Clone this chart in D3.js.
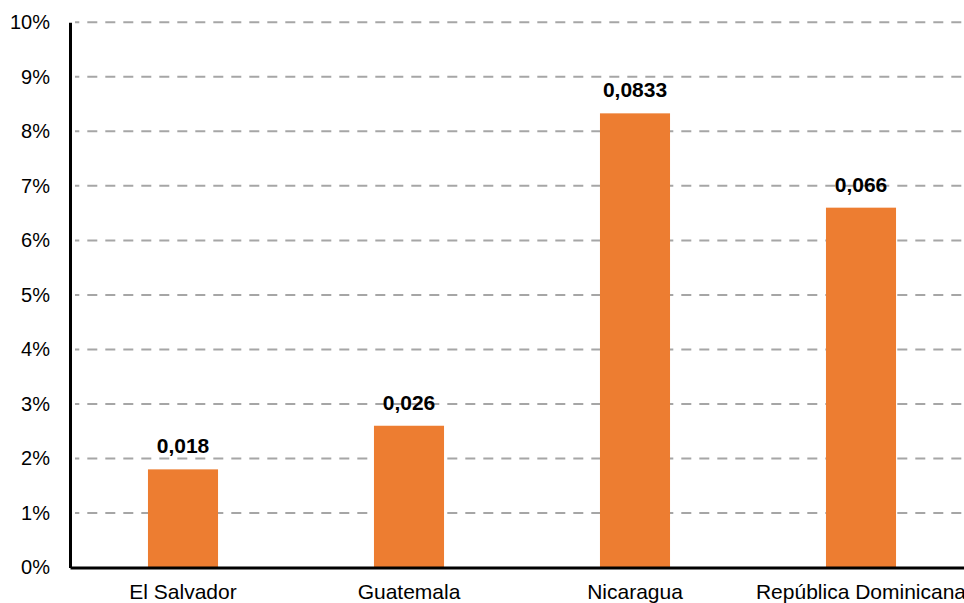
<!DOCTYPE html>
<html><head><meta charset="utf-8">
<script src="https://cdn.jsdelivr.net/npm/d3@7"></script>
<style>body{margin:0;background:#fff}svg{display:block;font-family:"Liberation Sans",Arial,sans-serif}</style>
</head><body><svg id="c" width="964" height="603"></svg>
<script>
const categories = ["El Salvador","Guatemala","Nicaragua","República Dominicana"];
const values = [0.018, 0.026, 0.0833, 0.066];
const valueLabels = ["0,018","0,026","0,0833","0,066"];
const yTicks = [0,0.01,0.02,0.03,0.04,0.05,0.06,0.07,0.08,0.09,0.10];

const svg = d3.select("#c");
const x = d3.scaleBand().domain(categories).range([70, 974]).paddingInner(0.69).paddingOuter(0.345);
const y = d3.scaleLinear().domain([0, 0.10]).range([567.5, 22.3]);

// gridlines
svg.append("g").selectAll("line").data(yTicks.filter(d=>d>0)).join("line")
  .attr("x1", 75).attr("x2", 964)
  .attr("y1", d=>y(d)).attr("y2", d=>y(d))
  .attr("stroke", "#a6a6a6").attr("stroke-width", 2)
  .attr("stroke-dasharray", "10,8").attr("stroke-dashoffset", 5.7);

// bars
svg.append("g").selectAll("rect").data(values).join("rect")
  .attr("x", (d,i)=>x(categories[i])).attr("width", x.bandwidth())
  .attr("y", d=>y(d)).attr("height", d=>y(0)-y(d))
  .attr("fill", "#ED7D31");

// value labels
svg.append("g").selectAll("text").data(values).join("text")
  .attr("x", (d,i)=>x(categories[i]) + x.bandwidth()/2)
  .attr("y", d=>y(d) - 16)
  .attr("text-anchor", "middle").attr("font-weight", "bold").attr("font-size", 21)
  .attr("fill", "#000")
  .text((d,i)=>valueLabels[i]);

// y axis
const yAxis = d3.axisLeft(y).tickValues(yTicks).tickFormat(d3.format(".0%")).tickSize(0).tickPadding(20);
const gy = svg.append("g").attr("transform", "translate(70,0)").call(yAxis);
gy.select(".domain").attr("stroke", "#000").attr("stroke-width", 3);
gy.selectAll("text").attr("font-size", 20).attr("fill", "#000").attr("font-family", "Liberation Sans, Arial, sans-serif");

// x axis
const xAxis = d3.axisBottom(x).tickSize(0).tickPadding(17);
const gx = svg.append("g").attr("transform", "translate(0,567.5)").call(xAxis);
gx.select(".domain").attr("stroke", "#000").attr("stroke-width", 3);
gx.selectAll("text").attr("font-size", 21).attr("fill", "#000").attr("font-family", "Liberation Sans, Arial, sans-serif");
</script></body></html>
